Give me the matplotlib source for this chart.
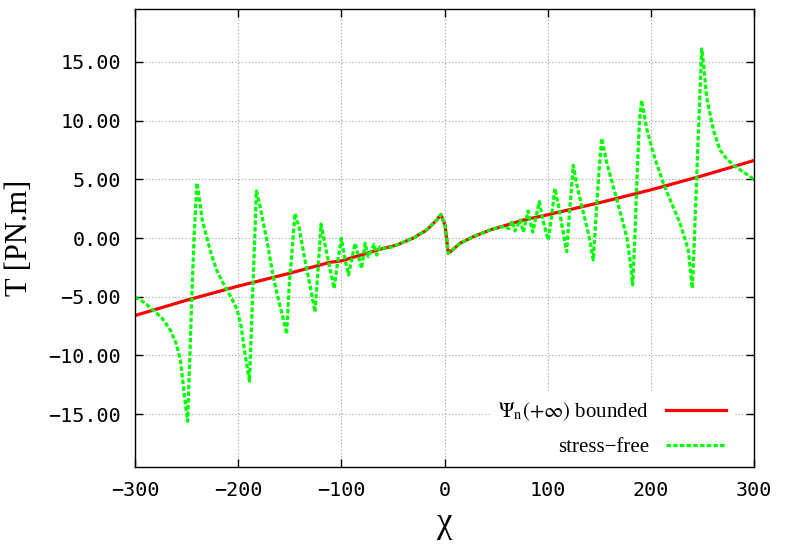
import matplotlib
matplotlib.use("Agg")
import matplotlib.pyplot as plt
from matplotlib.ticker import FixedLocator, FuncFormatter

plt.rcParams['axes.unicode_minus'] = False
plt.rcParams['mathtext.fontset'] = 'stix'

# ---- data ----
red_chi = [-300, -250, -200, -150, -111, -100, -78.7, -62.5, -46.3, -30.2, -17.3, -7.6,
           -3.5, 0.5, 3.7, 8, 15, 28, 44, 60.3, 76.4, 99, 150, 200, 250, 300]
red_T = [-6.6, -5.3, -4.1, -3.0, -2.07, -1.95, -1.39, -0.96, -0.6, 0.0, 0.68, 1.53,
         2.0, 1.1, -1.3, -1.0, -0.45, 0.11, 0.68, 1.1, 1.53, 1.96, 3.0, 4.1, 5.3, 6.6]

green_chi = [-300, -291, -283, -274, -266, -260, -256, -252, -249, -247, -245, -242.5, -240,
             -238, -235, -230.6, -226, -221, -216, -211, -206, -201, -197, -193, -189,
             -187.5, -185.5, -182.3, -178.8, -172, -166, -160, -156, -153, -150.5, -147.5,
             -145, -141, -135, -130, -125.5, -122, -119.7, -116, -111, -107, -103.5, -100,
             -96.5, -93, -86.7, -80.3, -77, -73.9, -68.3, -65.7, -62.5, -58, -50, -46.3,
             -40, -30.2, -17.3, -7.6, -3.5, 0.5, 3.7, 8, 15, 28, 44, 55, 58, 62.5, 65.7,
             68.3, 73.5, 76.4, 81, 85.5, 91.9, 96, 100.6, 104, 107.1, 110, 113, 118.4,
             121.5, 124.8, 129, 135, 140, 144.2, 147, 150, 152.4, 157, 163.6, 170, 176.6,
             180, 182.4, 184.5, 187, 189, 191.1, 196, 202.4, 212.1, 220, 228.3, 236.3,
             240.2, 242, 244.4, 247, 249.3, 251.5, 254.1, 260.6, 267, 273, 280, 290, 300]
green_T = [-5.0, -5.5, -6.1, -6.8, -7.8, -9.0, -10.4, -13.5, -15.6, -10.5, -5.1, 0.5, 4.7,
           3.6, 1.6, 0.1, -1.4, -2.7, -3.6, -4.4, -5.2, -6.1, -7.6, -10.1, -12.2,
           -8.5, -3.7, 4.0, 2.7, -0.3, -3.3, -5.6, -7.0, -8.2, -4.0, -0.8,
           2.1, 0.9, -2.0, -4.2, -6.3, -2.0, 1.2, -0.5, -2.6, -4.3, -2.0, -0.03,
           -1.8, -3.15, -0.45, -2.6, -0.45, -1.59, -0.54, -1.45, -0.74, -0.9, -0.75, -0.6,
           -0.35, 0.0, 0.68, 1.53, 2.0, 1.1, -1.3, -1.0, -0.45, 0.11, 0.68, 0.95, 0.95, 0.8, 1.45,
           0.6, 1.55, 0.5, 2.3, 0.5, 3.09, 1.3, -0.17, 2.0, 4.22, 3.0, 1.5, -1.16,
           2.5, 6.2, 4.2, 2.0, 0.2, -1.87, 2.0, 6.0, 8.48, 6.5, 4.36, 2.3, 0.11,
           -2.0, -4.0, 0.0, 6.0, 10.0, 11.73, 9.3, 7.2, 4.65, 3.0, 1.25, -1.02,
           -4.28, -0.5, 5.08, 11.0, 16.1, 14.5, 12.0, 9.2, 7.5, 6.8, 6.2, 5.6, 5.0]

x_ticks = [-300, -200, -100, 0, 100, 200, 300]
y_ticks = [-15, -10, -5, 0, 5, 10, 15]
labels = [r'$\Psi_{\mathrm{n}}(+\infty)$ bounded', 'stress\u2212free']

fig = plt.figure(figsize=(7.88, 5.5), dpi=100)
ax = fig.add_axes([135/788, 1 - 467/550, (754 - 135)/788, (467 - 9)/550])

ax.plot(red_chi, red_T, color='#ff0000', lw=2.3, label=labels[0], zorder=3)
ax.plot(green_chi, green_T, color='#00ff00', lw=2.3, dashes=(1.4, 0.7),
        label=labels[1], zorder=4)

ax.set_xlim(-300, 300)
ax.set_ylim(-19.5, 19.5)
ax.xaxis.set_major_locator(FixedLocator(x_ticks))
ax.yaxis.set_major_locator(FixedLocator(y_ticks))
ax.xaxis.set_major_formatter(FuncFormatter(lambda v, p: ('%d' % v).replace('-', '\u2212')))
ax.yaxis.set_major_formatter(FuncFormatter(lambda v, p: ('%.2f' % v).replace('-', '\u2212')))

ax.grid(True, color='#a0a0a0', linestyle=(0, (1, 2)), lw=0.8, zorder=0)
ax.set_axisbelow(True)
ax.tick_params(direction='in', length=6, width=1, top=True, right=True,
               labelsize=14.5, pad=10)
for lab in ax.get_xticklabels() + ax.get_yticklabels():
    lab.set_fontfamily('DejaVu Sans Mono')
for s in ax.spines.values():
    s.set_linewidth(1.0)
    s.set_color('black')
    s.set_zorder(6)

ax.set_xlabel('\u03c7', fontfamily='Liberation Serif', fontsize=25, labelpad=5)
ax.set_ylabel('T [PN.m]', fontfamily='Liberation Serif', fontsize=22, labelpad=10)

leg = ax.legend(loc='lower right', bbox_to_anchor=(0.985, -0.02), markerfirst=False,
                frameon=True, facecolor='white', edgecolor='white', framealpha=1,
                fancybox=False, handlelength=2.9, labelspacing=0.7,
                prop={'family': 'Liberation Serif', 'size': 15})
leg.set_zorder(5)

fig.savefig('out.png', dpi=100)
